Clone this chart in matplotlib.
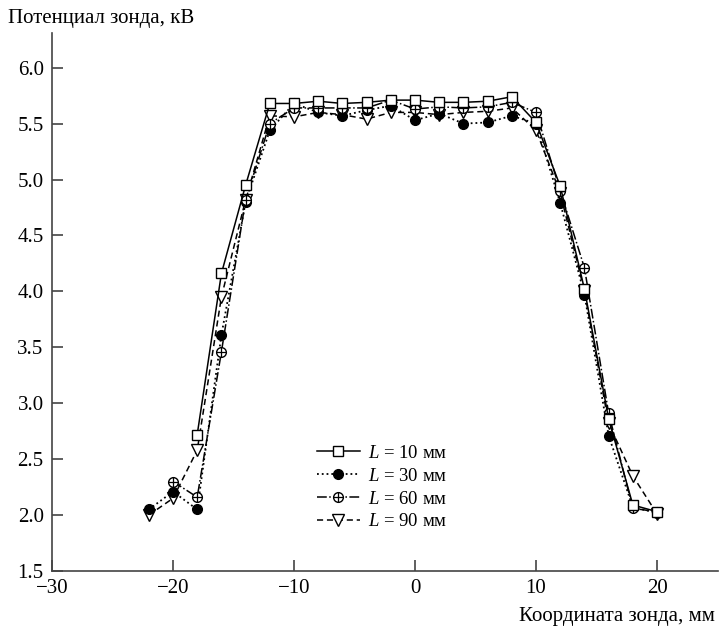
import matplotlib
matplotlib.use('Agg')
import matplotlib.pyplot as plt
from matplotlib.legend_handler import HandlerTuple

plt.rcParams['font.family'] = ['Liberation Serif', 'DejaVu Serif']
plt.rcParams['mathtext.fontset'] = 'custom'
plt.rcParams['mathtext.it'] = 'Liberation Serif:italic'
plt.rcParams['mathtext.rm'] = 'Liberation Serif'

# === данные ===
x10 = [-18, -16, -14, -12, -10, -8, -6, -4, -2, 0, 2, 4, 6, 8, 10, 12, 14, 16, 18, 20]
y10 = [2.72, 4.16, 4.95, 5.68, 5.68, 5.70, 5.68, 5.69, 5.71, 5.71, 5.69, 5.69, 5.70, 5.74, 5.51, 4.94, 4.02, 2.86, 2.09, 2.03]

x30 = [-22, -20, -18, -16, -14, -12, -10, -8, -6, -4, -2, 0, 2, 4, 6, 8, 10, 12, 14, 16, 18, 20]
y30 = [2.05, 2.21, 2.05, 3.61, 4.80, 5.44, 5.68, 5.60, 5.57, 5.62, 5.66, 5.53, 5.59, 5.50, 5.51, 5.57, 5.50, 4.79, 3.97, 2.71, 2.07, 2.02]

x60 = [-20, -18, -16, -14, -12, -10, -8, -6, -4, -2, 0, 2, 4, 6, 8, 10, 12, 14, 16, 18, 20]
y60 = [2.30, 2.16, 3.46, 4.82, 5.50, 5.64, 5.64, 5.64, 5.64, 5.71, 5.63, 5.65, 5.64, 5.65, 5.69, 5.60, 4.90, 4.21, 2.91, 2.06, 2.03]

x90 = [-22, -20, -18, -16, -14, -12, -10, -8, -6, -4, -2, 0, 2, 4, 6, 8, 10, 12, 14, 16, 18, 20]
y90 = [2.00, 2.15, 2.58, 3.95, 4.82, 5.57, 5.56, 5.60, 5.58, 5.54, 5.60, 5.60, 5.58, 5.60, 5.61, 5.64, 5.44, 4.88, 4.00, 2.82, 2.35, 2.01]

labels = ['$L$ = 10 мм', '$L$ = 30 мм', '$L$ = 60 мм', '$L$ = 90 мм']

# === рисунок ===
fig = plt.figure(figsize=(7.19, 6.31), dpi=100)
ax = fig.add_axes([52/719, 1 - 571/631, 1 - 52/719 - 0.002, (571 - 33)/631])

ms = 7
l10, = ax.plot(x10, y10, color='black', lw=1.1, ls='-', marker='s', ms=ms,
               mfc='white', mec='black', mew=1.0, zorder=4)
l30, = ax.plot(x30, y30, color='black', lw=1.3, ls=':', marker='o', ms=ms,
               mfc='black', mec='black', zorder=3)
l60, = ax.plot(x60, y60, color='black', lw=1.1, ls='-.', marker='o', ms=ms,
               mfc='white', mec='black', mew=1.0, zorder=3)
p60, = ax.plot(x60, y60, ls='none', marker='+', ms=ms, mec='black', mew=0.9, zorder=3.5)
l90, = ax.plot(x90, y90, color='black', lw=1.1, ls=(0, (4, 2.5)), marker='v', ms=ms + 1,
               mfc='white', mec='black', mew=1.0, zorder=2)

ax.set_xlim(-30, 25)
ax.set_ylim(1.5, 6.31)
ax.set_xticks([-30, -20, -10, 0, 10, 20])
ax.set_xticklabels(['\u221230', '\u221220', '\u221210', '0', '10', '20'])
ax.set_yticks([1.5, 2.0, 2.5, 3.0, 3.5, 4.0, 4.5, 5.0, 5.5, 6.0])
ax.set_yticklabels([f'{v:.1f}' for v in ax.get_yticks()])

for s in ['top', 'right']:
    ax.spines[s].set_visible(False)
for s in ['left', 'bottom']:
    ax.spines[s].set_color('#444444')
    ax.spines[s].set_linewidth(1.2)
ax.tick_params(direction='in', length=8, width=1.2, color='#444444', labelsize=15, pad=6)

fig.text(8/719, 1 - 18/631, 'Потенциал зонда, кВ', fontsize=15, ha='left', va='center')
fig.text(715/719, 1 - 617/631, 'Координата зонда, мм', fontsize=15, ha='right', va='center')

ax.legend([l10, l30, (l60, p60), l90], labels,
          handler_map={tuple: HandlerTuple(ndivide=1, pad=0)},
          loc='upper left', bbox_to_anchor=(300/719, 1 - 428/631),
          bbox_transform=fig.transFigure, frameon=False, fontsize=13.5,
          handlelength=2.3, handletextpad=0.4, labelspacing=0.3)

fig.savefig('out.png', dpi=100)
